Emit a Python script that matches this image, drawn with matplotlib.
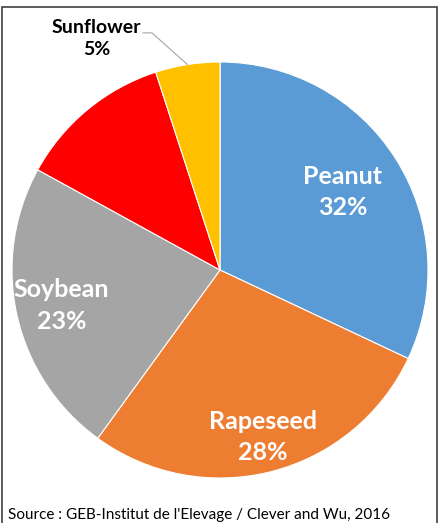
import numpy as np
import matplotlib
matplotlib.use("Agg")
import matplotlib.pyplot as plt
from matplotlib.patches import Rectangle

# data
crops = ['Peanut', 'Rapeseed', 'Soybean', '', 'Sunflower']
shares = [32, 28, 23, 12, 5]
colors = ['#5B9BD5', '#ED7D31', '#A5A5A5', '#FF0000', '#FFC000']
source = "Source : GEB-Institut de l'Elevage / Clever and Wu, 2016"

plt.rcParams['font.family'] = ['Lato', 'DejaVu Sans']

fig = plt.figure(figsize=(4.41, 5.23), dpi=100)
ax = fig.add_axes([12 / 441, 45 / 523, 416 / 441, 416 / 523])

wedges, _ = ax.pie(shares, colors=colors, startangle=90, counterclock=False,
                   radius=1, wedgeprops=dict(edgecolor='white', linewidth=0.8))
ax.set_xlim(-1, 1)
ax.set_ylim(-1, 1)
ax.set_aspect('auto')
ax.axis('off')

# labels inside the slices, radius fraction per slice
label_r = [0.70, 0.83, 0.78]
total = sum(shares)
cum = 0
for i, (name, val) in enumerate(zip(crops, shares)):
    mid = 90 - 360 * (cum + val / 2) / total
    cum += val
    if i < 3:
        x = label_r[i] * np.cos(np.radians(mid))
        y = label_r[i] * np.sin(np.radians(mid))
        ax.text(x, y, f'{name}\n{val}%', ha='center', va='center', color='white',
                fontsize=18, fontweight='bold', linespacing=1.45)
    elif name:
        # outside label with leader line
        ex, ey = np.cos(np.radians(mid)), np.sin(np.radians(mid))
        ax.plot([-0.37, -0.327, ex], [1.14, 1.14, ey], color='#A6A6A6', lw=0.8,
                clip_on=False)
        ax.text(-0.594, 1.113, f'{name}\n{val}%', ha='center', va='center', color='black',
                fontsize=14, fontweight='bold', linespacing=1.35)

fig.text(8 / 441, 1 - 519 / 523, source, ha='left', va='baseline', fontsize=11,
         color='black')

# outer frame (bottom edge runs off the image)
fig.patches.append(Rectangle((2 / 441, -0.05), 435 / 441, 1.05 - 7 / 523,
                             transform=fig.transFigure, fill=False,
                             edgecolor='#404040', lw=1.2))

fig.savefig('out.png', dpi=100)
